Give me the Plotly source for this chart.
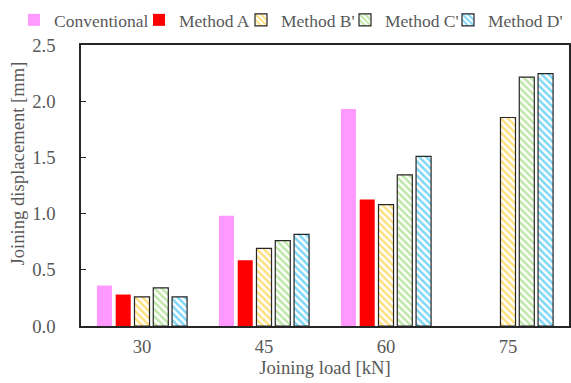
import plotly.graph_objects as go

categories = ["30", "45", "60", "75"]
series_names = ["Conventional", "Method A", "Method B'", "Method C'", "Method D'"]
conventional = [0.36, 0.98, 1.93, None]
method_a = [0.28, 0.585, 1.125, None]
method_b = [0.26, 0.69, 1.08, 1.855]
method_c = [0.34, 0.76, 1.345, 2.215]
method_d = [0.26, 0.815, 1.51, 2.245]

FONT = "Liberation Serif"
GRAY = "#595959"
FS = 18.67
LEGEND_FS = 17.5
legend_widths = [80, 57, 59, 58, 76]

fig = go.Figure()
fig.add_trace(go.Bar(name=series_names[0], x=categories, y=conventional, legendwidth=legend_widths[0],
                     marker=dict(color="#FF99FF", line=dict(width=0))))
fig.add_trace(go.Bar(name=series_names[1], x=categories, y=method_a, legendwidth=legend_widths[1],
                     marker=dict(color="#FF0000", line=dict(width=0))))
hatched = [(series_names[2], method_b, "#FFC000", legend_widths[2]),
           (series_names[3], method_c, "#7FCF50", legend_widths[3]),
           (series_names[4], method_d, "#00B0F0", legend_widths[4])]
for name, vals, col, lw in hatched:
    fig.add_trace(go.Bar(name=name, x=categories, y=vals, legendwidth=lw,
                         marker=dict(color="white",
                                     line=dict(color="#262626", width=1.2),
                                     pattern=dict(shape="\\", fgcolor=col, bgcolor="white",
                                                  size=5, solidity=0.5))))

fig.update_layout(
    width=571, height=383,
    margin=dict(l=81, r=2, t=45, b=57, autoexpand=False),
    paper_bgcolor="white", plot_bgcolor="white",
    barmode="group", bargap=0.23, bargroupgap=0.2,
    font=dict(family=FONT, size=FS, color=GRAY),
    showlegend=True,
    legend=dict(orientation="h", x=-0.1373, xanchor="left", y=1.089, yanchor="middle",
                font=dict(family=FONT, size=LEGEND_FS, color=GRAY),
                itemwidth=30, tracegroupgap=0, bgcolor="rgba(0,0,0,0)"),
    annotations=[dict(text="Joining displacement [mm]", xref="paper", yref="paper",
                      x=-0.131, y=(326 - 163.5) / 281, xanchor="center", yanchor="middle",
                      textangle=-90, showarrow=False,
                      font=dict(family=FONT, size=FS, color=GRAY))],
)
fig.update_xaxes(type="category", range=[-0.5, 3.5], showline=True, linecolor="#262626",
                 linewidth=1.5, mirror=True, ticks="", showgrid=False,
                 ticklabelstandoff=3,
                 title=dict(text="Joining load [kN]", standoff=1,
                            font=dict(family=FONT, size=FS, color=GRAY)))
fig.update_yaxes(range=[0, 2.5], dtick=0.5, tickformat=".1f", showline=True,
                 linecolor="#262626", linewidth=1.5, mirror=True,
                 ticks="inside", ticklen=5, tickcolor="#262626", showgrid=False,
                 zeroline=False, ticklabelstandoff=20)

fig.write_html("out.html")
